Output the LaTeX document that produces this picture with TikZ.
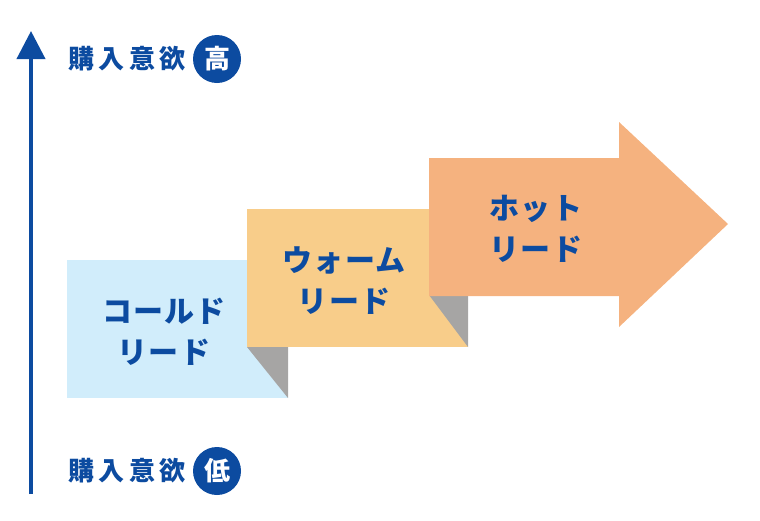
\documentclass[tikz,border=0pt]{standalone}
\usepackage{fontspec}
\setmainfont{Noto Sans CJK JP}
\usetikzlibrary{
		arrows.meta,
		positioning
	}
\definecolor{axisblue}{RGB}{12,75,160}
\definecolor{coldfill}{RGB}{209,237,251}
\definecolor{warmfill}{RGB}{248,205,138}
\definecolor{hotfill}{RGB}{245,178,127}
\definecolor{foldgray}{RGB}{166,165,164}
\tikzset{
		>=stealth,
		leadtext/.style={text=axisblue, font=\fontsize{30}{41}\selectfont\bfseries\addfontfeatures{LetterSpace=4}, align=center},
		axislabel/.style={text=axisblue, font=\fontsize{26}{26}\selectfont\bfseries\addfontfeatures{LetterSpace=16}},
		levelmark/.style={circle, fill=axisblue, text=white, minimum size=48pt, inner sep=0pt, font=\fontsize{26}{26}\selectfont\bfseries}
	}

\begin{document}
\begin{tikzpicture}[x=1pt, y=-1pt]
            \useasboundingbox (0,0) rectangle (760,520);

            \coordinate (axisbottom) at (31,494);
            \coordinate (axistop) at (31,31);
            \draw[axisblue, line width=4pt, -{Triangle[length=28pt, width=28pt]}] (axisbottom) -- (axistop);

            \node[levelmark] (high) at (217,59) {高};
            \node[axislabel, left=4pt of high] (highlabel) {購入意欲};
            \node[levelmark] (low) at (217,471) {低};
            \node[axislabel, left=4pt of low] (lowlabel) {購入意欲};

            % cold
            \fill[coldfill] (67,260) rectangle (288,398);
            \fill[foldgray] (247,347) -- (288,347) -- (288,398) -- cycle;
            % warm
            \fill[warmfill] (247,209) rectangle (468,347);
            \fill[foldgray] (429,295) -- (468,295) -- (468,347) -- cycle;
            % hot
            \fill[hotfill] (429,158) -- (619,158) -- (619,122) -- (728,224)
                -- (619,327) -- (619,296) -- (429,296) -- cycle;

            \node[leadtext] (cold) at (164,332) {コールド\\リード};
            \node[leadtext] (warm) at (344,281) {ウォーム\\リード};
            \node[leadtext] (hot) at (536,229) {ホット\\リード};
        \end{tikzpicture}
\end{document}
